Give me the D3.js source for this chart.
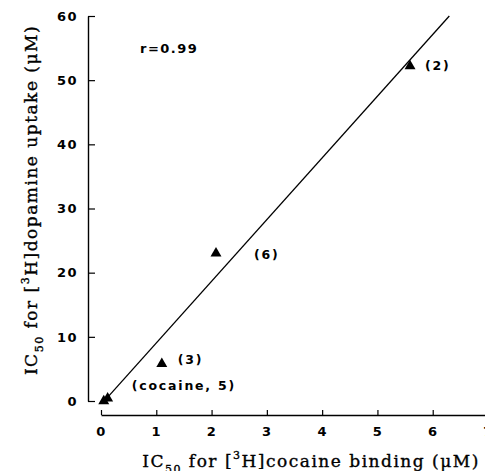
<!DOCTYPE html>
<html>
<head>
<meta charset="utf-8">
<script src="https://cdn.jsdelivr.net/npm/d3@7"></script>
<style>
body { margin: 0; background: #fff; }
</style>
</head>
<body>
<div id="chart"></div>
<script>
var width = 485;
var height = 471;

// values
var compounds = ["cocaine", "5", "3", "6", "2"];
var bindingIC50 = [0.05, 0.12, 1.1, 2.08, 5.59]; // x, uM
var uptakeIC50 = [0, 0.4, 5.8, 23, 52.2];        // y, uM
var fitX = [0.07, 6.3];   // ends of the regression line
var fitY = [0.1, 60];
var xTicks = [0, 1, 2, 3, 4, 5, 6, 7];
var yTicks = [0, 10, 20, 30, 40, 50, 60];
var rText = "r=0.99";
var pointLabels = ["(cocaine, 5)", "(3)", "(6)", "(2)"];
var labelPoint = [0, 2, 3, 4]; // which point each label belongs to

var x = d3.scaleLinear().domain([0, 7]).range([101, 488]);
var y = d3.scaleLinear().domain([0, 60]).range([401, 16]);

var svg = d3.select("#chart").append("svg")
  .attr("width", width)
  .attr("height", height)
  .style("font-family", "DejaVu Sans");

svg.append("rect").attr("width", width).attr("height", height).attr("fill", "#fff");

// y axis, offset left of x=0, ticks pointing in
var yAxis = svg.append("g")
  .attr("transform", "translate(88,0)")
  .call(d3.axisLeft(y).tickValues(yTicks).tickFormat(d3.format("d"))
    .tickSizeInner(-7).tickSizeOuter(0).tickPadding(10));

// x axis, offset below y=0, ticks pointing up
var xAxis = svg.append("g")
  .attr("transform", "translate(0,415)")
  .call(d3.axisBottom(x).tickValues(xTicks).tickFormat(d3.format("d"))
    .tickSizeInner(-5).tickSizeOuter(0).tickPadding(12));

[yAxis, xAxis].forEach(function(g) {
  g.select(".domain").attr("stroke", "#000").attr("stroke-width", 1.4);
  g.selectAll(".tick line").attr("stroke", "#000").attr("stroke-width", 1.2);
  g.selectAll(".tick text")
    .attr("fill", "#000")
    .style("font-family", "DejaVu Sans")
    .style("font-weight", "bold")
    .style("font-size", "13px")
    .style("letter-spacing", "1.5px");
});

// regression line
svg.append("line")
  .attr("x1", x(fitX[0])).attr("y1", y(fitY[0]))
  .attr("x2", x(fitX[1])).attr("y2", y(fitY[1]))
  .attr("stroke", "#000")
  .attr("stroke-width", 1.3);

// points
var tri = d3.symbol().type(d3.symbolTriangle).size(52);
svg.selectAll(".pt")
  .data(compounds)
  .enter().append("path")
  .attr("class", "pt")
  .attr("d", tri)
  .attr("transform", function(d, i) { return "translate(" + x(bindingIC50[i]) + "," + y(uptakeIC50[i]) + ")"; })
  .attr("fill", "#000");

// point labels
var labelShift = [[28, -11], [16, 0], [38, 6], [15, 4]];
svg.selectAll(".lbl")
  .data(pointLabels)
  .enter().append("text")
  .attr("class", "lbl")
  .attr("x", function(d, i) { return x(bindingIC50[labelPoint[i]]) + labelShift[i][0]; })
  .attr("y", function(d, i) { return y(uptakeIC50[labelPoint[i]]) + labelShift[i][1]; })
  .style("font-weight", "bold")
  .style("font-size", "12.5px")
  .style("letter-spacing", "1.8px")
  .text(function(d) { return d; });

svg.append("text")
  .attr("x", 140)
  .attr("y", 53)
  .style("font-size", "13px")
  .style("font-weight", "bold")
  .style("letter-spacing", "1.5px")
  .text(rText);

// axis titles with sub/superscripts
function axisTitle(g, rest) {
  g.style("font-family", "DejaVu Serif")
    .style("font-size", "17px")
    .style("letter-spacing", "1.5px")
    .style("stroke", "#000")
    .style("stroke-width", "0.35px")
    .attr("text-anchor", "middle");
  g.append("tspan").text("IC");
  g.append("tspan").attr("dy", 6).style("font-size", "11px").text("50");
  g.append("tspan").attr("dy", -6).text(" for [");
  g.append("tspan").attr("dy", -8).style("font-size", "11px").text("3");
  g.append("tspan").attr("dy", 8).text(rest);
}

axisTitle(svg.append("text").attr("x", 311).attr("y", 467), "H]cocaine binding (\u03bcM)");
axisTitle(svg.append("text").attr("transform", "translate(37,200) rotate(-90)"), "H]dopamine uptake (\u03bcM)");
</script>
</body>
</html>
